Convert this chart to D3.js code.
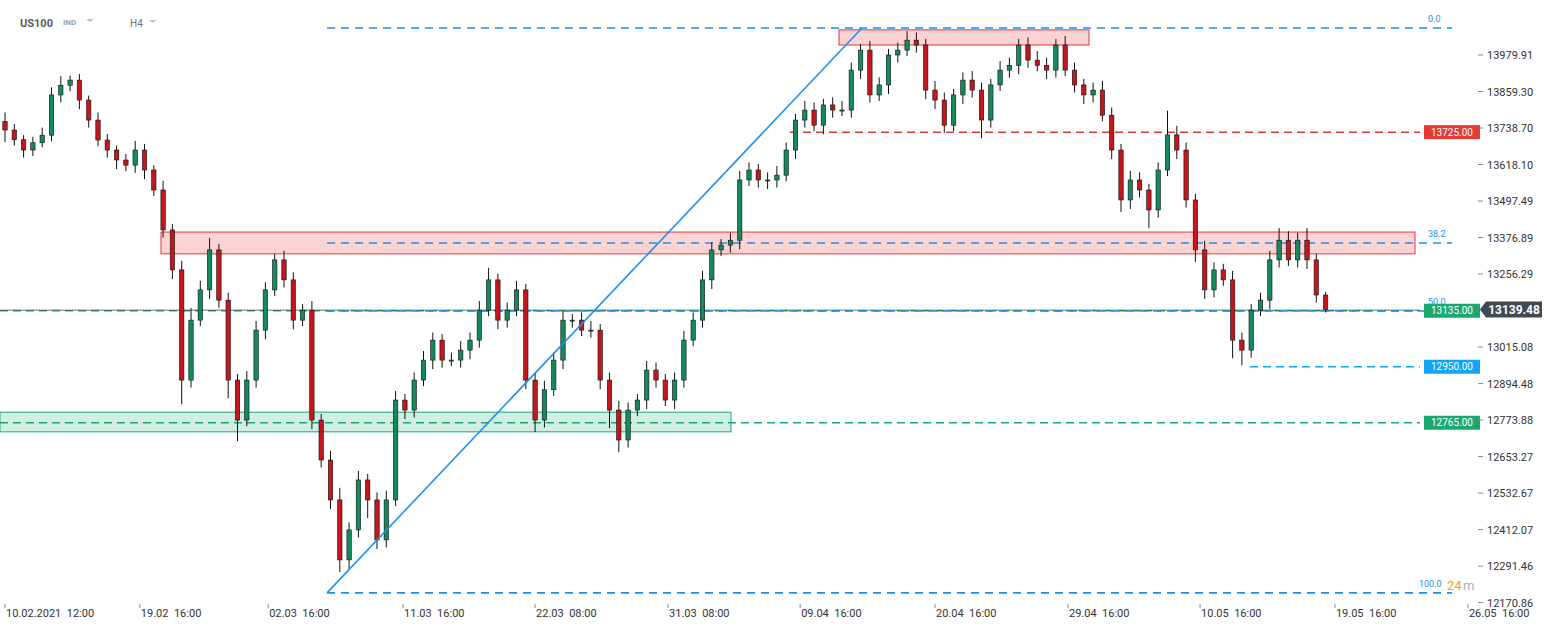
<!DOCTYPE html>
<html><head><meta charset="utf-8">
<script src="https://cdn.jsdelivr.net/npm/d3@7"></script>
<style>body{margin:0;background:#fff;font-family:Roboto,Arial,sans-serif}</style>
</head><body><svg id="c" width="1546" height="630"></svg>
<script>
const closes=[13732,13700,13666,13690,13715,13848,13880,13897,13831,13765,13699,13666,13633,13616,13666,13600,13534,13402,13270,12906,
13104,13204,13336,13170,12906,12774,12906,13071,13204,13303,13237,13104,13137,12774,12642,12510,12312,12411,12576,12510,
12378,12510,12840,12807,12906,12972,13038,12972,12972,13005,13038,13137,13237,13104,13137,13204,12906,12774,12874,12972,
13104,13104,13071,13071,12906,12807,12708,12807,12840,12939,12906,12840,12906,13038,13104,13237,13336,13352,13368,13567,
13600,13567,13567,13583,13666,13765,13798,13748,13815,13798,13798,13930,13996,13848,13881,13980,13996,14029,14013,13864,
13831,13748,13848,13897,13864,13765,13881,13930,13946,14013,13963,13946,13930,14013,13930,13881,13848,13864,13781,13666,
13501,13567,13534,13468,13600,13716,13666,13501,13336,13204,13270,13237,13038,13005,13137,13170,13303,13368,13303,13368,
13303,13187,13139.48];
const firstOpen=13760;
const wickUp=[30,20,15,20,25,25,30,15,20,15,25,20,15,20,30,20,15,30,20,30,40,30,40,20,25,20,30,30,25,20,30,25,20,30,20,30,40,25,30,20,
25,30,30,20,25,30,25,20,25,30,25,30,40,20,25,30,20,25,30,25,30,20,25,30,20,25,30,25,20,30,25,20,25,30,25,30,25,20,25,30,
25,20,25,30,25,20,30,25,20,25,30,25,20,30,25,20,25,30,25,20,30,25,20,25,30,25,20,30,25,20,25,30,25,20,30,25,20,25,30,25,
20,30,25,20,25,80,30,25,20,30,25,20,30,25,20,25,30,40,30,25,40,20,10];
const wickDn=[40,20,25,20,15,20,25,20,30,25,20,25,30,20,25,30,20,25,30,80,25,20,30,25,60,70,20,25,30,20,25,30,20,30,25,30,40,30,25,60,
30,25,20,30,25,20,30,25,20,25,30,25,20,30,25,20,30,40,25,20,30,25,20,25,30,60,40,25,20,30,25,20,30,25,20,25,30,20,25,30,
20,25,30,25,20,30,25,20,30,25,20,25,30,25,20,30,25,20,25,30,30,25,20,30,25,60,25,20,25,30,25,20,30,25,20,25,30,25,20,30,
40,30,25,60,25,20,30,25,40,30,25,20,60,50,25,20,30,25,20,25,30,25,10];
const yTicks=[13979.91,13859.30,13738.70,13618.10,13497.49,13376.89,13256.29,13015.08,12894.48,12773.88,12653.27,12532.67,12412.07,12291.46,12170.86];
const xTickLabels=["10.02.2021  12:00","19.02  16:00","02.03  16:00","11.03  16:00","22.03  08:00","31.03  08:00","09.04  16:00","20.04  16:00","29.04  16:00","10.05  16:00","19.05  16:00","26.05  16:00"];
const xTickIdx=[0,14.5,28.3,42.8,57,71.3,85.5,100,114.3,128.5,143,157.3];
const fibLevels=[{v:14069,label:"0.0"},{v:13359,label:"38.2"},{v:13134,label:"50.0"},{v:12203,label:"100.0"}];
const levelTags=[{v:13725,label:"13725.00",c:"#e53935"},{v:13135,label:"13135.00",c:"#1aa872"},{v:12950,label:"12950.00",c:"#10a5f5"},{v:12765,label:"12765.00",c:"#1aa872"}];
const lastPrice=13139.48;

const svg=d3.select("#c");
const y=d3.scaleLinear().domain([12170.86,13979.91]).range([602.6,55]);
const x=d3.scaleLinear().domain([0,1]).range([5,14.3]);
const g=svg.append("g");

svg.append("text").attr("x",20).attr("y",27).text("US100").attr("font-size",11).attr("font-weight","bold").attr("fill","#555d66");
svg.append("text").attr("x",63).attr("y",25).text("IND").attr("font-size",8).attr("font-weight","bold").attr("fill","#9aa0a6");
svg.append("path").attr("d","M86,19 l4,3 l4,-3z").attr("fill","#c0c4c8");
svg.append("text").attr("x",130).attr("y",27).text("H4").attr("font-size",10).attr("fill","#6a7178");
svg.append("path").attr("d","M149,20 l4,3 l4,-3z").attr("fill","#c0c4c8");

g.append("rect").attr("x",0).attr("width",731).attr("y",y(12800)).attr("height",y(12735)-y(12800)).attr("fill","rgba(26,168,114,0.2)").attr("stroke","#1aa872");
g.append("rect").attr("x",161).attr("width",1254).attr("y",y(13395)).attr("height",y(13323)-y(13395)).attr("fill","rgba(240,80,80,0.25)").attr("stroke","#e53935");
g.append("rect").attr("x",839).attr("width",250).attr("y",y(14063)).attr("height",y(14013)-y(14063)).attr("fill","rgba(240,80,80,0.25)").attr("stroke","#e53935");

g.append("line").attr("x1",0).attr("x2",1420).attr("y1",y(12765)).attr("y2",y(12765)).attr("stroke","#1aa872").attr("stroke-width",1.5).attr("stroke-dasharray","8,5");
g.append("line").attr("x1",0).attr("x2",1420).attr("y1",y(13135)).attr("y2",y(13135)).attr("stroke","#1aa872").attr("stroke-width",1.3).attr("stroke-dasharray","8,5");
g.append("line").attr("x1",0).attr("x2",1420).attr("y1",y(13137)).attr("y2",y(13137)).attr("stroke","#3a4a55").attr("stroke-width",0.8);
g.append("line").attr("x1",790).attr("x2",1420).attr("y1",y(13725)).attr("y2",y(13725)).attr("stroke","#e53935").attr("stroke-width",1.5).attr("stroke-dasharray","8,5");
g.append("line").attr("x1",1250).attr("x2",1420).attr("y1",y(12950)).attr("y2",y(12950)).attr("stroke","#10a5f5").attr("stroke-width",1.5).attr("stroke-dasharray","8,5");
fibLevels.forEach(f=>{
  g.append("line").attr("x1",327).attr("x2",1452).attr("y1",y(f.v)).attr("y2",y(f.v)).attr("stroke","#1e90f0").attr("stroke-width",1.6).attr("stroke-dasharray","8,6");
  g.append("text").attr("x",f.label=="100.0"?1419:1428).attr("y",y(f.v)-6).text(f.label).attr("font-size",9).attr("fill","#1e90f0");
});

let prev=firstOpen;
const cg=g.append("g");
closes.forEach((c,i)=>{
  const o=prev; prev=c;
  const hi=Math.max(o,c)+wickUp[i], lo=Math.min(o,c)-wickDn[i];
  const cx=x(i);
  cg.append("line").attr("x1",cx).attr("x2",cx).attr("y1",y(hi)).attr("y2",y(lo)).attr("stroke","#111").attr("stroke-width",1);
  const top=y(Math.max(o,c)), h=Math.max(1,y(Math.min(o,c))-top);
  cg.append("rect").attr("x",cx-2.2).attr("width",4.4).attr("y",top).attr("height",h).attr("fill",c>=o?"#138a5c":"#c4161c").attr("stroke","#111").attr("stroke-width",0.6);
});

g.append("line").attr("x1",327).attr("y1",y(12203)).attr("x2",862).attr("y2",y(14069)).attr("stroke","#1e90f0").attr("stroke-width",1.6);

levelTags.forEach(t=>{
  g.append("rect").attr("x",1424).attr("y",y(t.v)-7).attr("width",56).attr("height",14).attr("fill",t.c);
  g.append("text").attr("x",1452).attr("y",y(t.v)+3.5).attr("text-anchor","middle").text(t.label).attr("font-size",10).attr("fill","#fff");
});
const ly=y(lastPrice);
svg.append("path").attr("d",`M1480,${ly} L1486,${ly-8} L1542,${ly-8} L1542,${ly+8} L1486,${ly+8}Z`).attr("fill","#3e4a54");
svg.append("text").attr("x",1514).attr("y",ly+4.5).attr("text-anchor","middle").text(lastPrice.toFixed(2)).attr("font-size",12).attr("font-weight","bold").attr("fill","#fff");

yTicks.forEach(v=>{
  svg.append("line").attr("x1",1478).attr("x2",1483).attr("y1",y(v)).attr("y2",y(v)).attr("stroke","#888");
  svg.append("text").attr("x",1487).attr("y",y(v)+4).text(v.toFixed(2)).attr("font-size",11).attr("fill","#333");
});
xTickLabels.forEach((l,i)=>{
  const px=x(xTickIdx[i]);
  svg.append("line").attr("x1",px).attr("x2",px).attr("y1",604).attr("y2",608).attr("stroke","#888");
  svg.append("text").attr("x",px+1).attr("y",617).text(l).attr("font-size",11).attr("fill","#333").style("white-space","pre");
});
svg.append("text").attr("x",1447).attr("y",590).text("24").attr("font-size",13).attr("fill","#f39c12");
svg.append("text").attr("x",1463).attr("y",590).text("m").attr("font-size",13).attr("fill","#b0b0b0");
</script></body></html>
